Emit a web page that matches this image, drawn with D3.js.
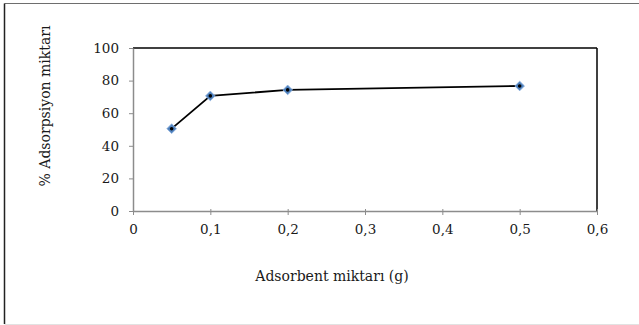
<!DOCTYPE html>
<html>
<head>
<meta charset="utf-8">
<script src="https://cdn.jsdelivr.net/npm/d3@7/dist/d3.min.js"></script>
<style>
html,body{margin:0;padding:0;background:#fff;}
svg{display:block;}
text{font-family:"DejaVu Serif","Liberation Serif",serif;fill:#1a1a1a;}
</style>
</head>
<body>
<svg id="c" width="639" height="325"></svg>
<script>
const xValues = [0.05, 0.1, 0.2, 0.5];
const yValues = [50.5, 70.6, 74.3, 76.7];
const xTicks = [0, 0.1, 0.2, 0.3, 0.4, 0.5, 0.6];
const yTicks = [0, 20, 40, 60, 80, 100];
const xTitle = "Adsorbent miktarı (g)";
const yTitle = "% Adsorpsiyon miktarı";

const svg = d3.select("#c");
const W = 639, H = 325;
const L = 133, R = 597, T = 48, B = 211;
const FONT = "'DejaVu Serif','Liberation Serif',serif";

// outer frame
svg.append("line").attr("x1",4.5).attr("x2",W).attr("y1",3.5).attr("y2",3.5).attr("stroke","#6e6e6e").attr("stroke-width",1);
svg.append("line").attr("x1",4.5).attr("x2",4.5).attr("y1",3.5).attr("y2",324).attr("stroke","#222").attr("stroke-width",1.5);
svg.append("line").attr("x1",4.5).attr("x2",W).attr("y1",324.5).attr("y2",324.5).attr("stroke","#e2e2e2").attr("stroke-width",1);

const x = d3.scaleLinear().domain([0,0.6]).range([L,R]);
const y = d3.scaleLinear().domain([0,100]).range([B,T]);

// plot border top/right
svg.append("line").attr("x1",L).attr("x2",R).attr("y1",T).attr("y2",T).attr("stroke","#000").attr("stroke-width",1.5);
svg.append("line").attr("x1",R).attr("x2",R).attr("y1",T).attr("y2",B).attr("stroke","#000").attr("stroke-width",1.5);

const fmt = d => String(d).replace(".", ",");

const xa = svg.append("g").attr("transform",`translate(0,${B})`)
  .call(d3.axisBottom(x).tickValues(xTicks).tickFormat(fmt).tickSize(4).tickSizeOuter(0));
const ya = svg.append("g").attr("transform",`translate(${L},0)`)
  .call(d3.axisLeft(y).tickValues(yTicks).tickSize(4).tickSizeOuter(0));
[xa, ya].forEach(a => {
  a.select(".domain").attr("stroke","#8c8c8c").attr("stroke-width",1.5);
  a.selectAll(".tick line").attr("stroke","#8c8c8c").attr("stroke-width",1);
  a.selectAll("text").attr("font-size",13.5).attr("fill","#1a1a1a").style("font-family",FONT);
});
ya.selectAll(".tick line").attr("x1",-4).attr("x2",0);
ya.selectAll("text").attr("x",-14);
xa.selectAll(".tick line").attr("y1",-2).attr("y2",4);
xa.selectAll("text").attr("y",13);

const pts = xValues.map((v,i)=>[v,yValues[i]]);
svg.append("path").datum(pts)
  .attr("d", d3.line().x(d=>x(d[0])).y(d=>y(d[1])))
  .attr("fill","none").attr("stroke","#000").attr("stroke-width",1.8);

const sym = d3.symbol().type(d3.symbolDiamond2).size(60);
svg.selectAll(".m").data(pts).join("path")
  .attr("transform",d=>`translate(${x(d[0])},${y(d[1])})`)
  .attr("d",sym).attr("fill","#4f81bd").attr("stroke","#8fb2de").attr("stroke-width",0.8);
svg.selectAll(".d").data(pts).join("circle")
  .attr("cx",d=>x(d[0])).attr("cy",d=>y(d[1])).attr("r",1.8).attr("fill","#000");

svg.append("text").attr("x",332).attr("y",281).attr("text-anchor","middle")
  .attr("font-size",14).text(xTitle);
svg.append("text").attr("transform","translate(50,106) rotate(-90)").attr("text-anchor","middle")
  .attr("font-size",14).text(yTitle);
</script>
</body>
</html>
